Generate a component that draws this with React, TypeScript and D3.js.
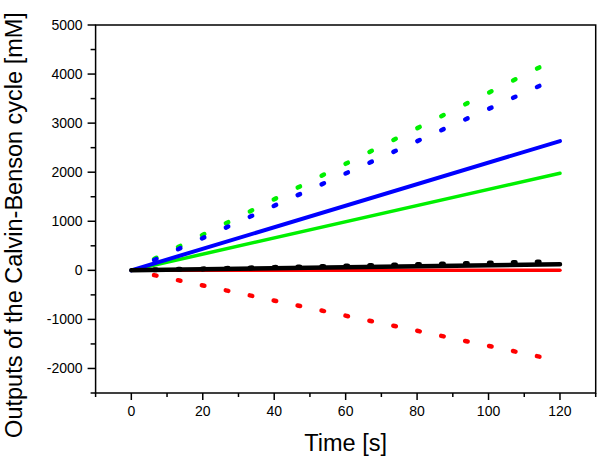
import React from "react";
import * as d3 from "d3";

const W = 600;
const H = 459;

// Solid lines (model)
const solidTimes = [0, 120];
const blueSolid = [0, 2635];
const greenSolid = [0, 1980];
const blackSolid = [0, 125];
const redSolid = [0, 0];

// Dotted series (sampled points)
const dotTimes = [0, 6.7, 13.4, 20.1, 26.8, 33.5, 40.2, 46.9, 53.6, 60.3, 67.0, 73.7, 80.4, 87.1, 93.8, 100.5, 107.2, 113.9];
const greenDots = [0, 243, 485, 728, 970, 1213, 1455, 1698, 1940, 2183, 2425, 2668, 2910, 3153, 3396, 3638, 3881, 4123];
const blueDots = [0, 220, 441, 661, 882, 1102, 1323, 1543, 1763, 1984, 2204, 2425, 2645, 2866, 3086, 3306, 3527, 3747];
const redDots = [0, -103, -206, -310, -413, -516, -619, -722, -825, -929, -1032, -1135, -1238, -1341, -1445, -1548, -1651, -1754];
const blackDots = [0, 10, 20, 30, 40, 50, 60, 70, 80, 90, 100, 110, 120, 131, 141, 151, 161, 171];

const xMajor = [0, 20, 40, 60, 80, 100, 120];
const xMinor = [-10, 10, 30, 50, 70, 90, 110, 130];
const yMajor = [-2000, -1000, 0, 1000, 2000, 3000, 4000, 5000];
const yMinor = [-2500, -1500, -500, 500, 1500, 2500, 3500, 4500];

const xLabel = "Time [s]";
const yLabel = "Outputs of the Calvin-Benson cycle [mM]";

const BLUE = "#0000ff";
const GREEN = "#00f000";
const RED = "#ff0000";
const BLACK = "#000000";

const FONT = "Arial, 'Liberation Sans', sans-serif";

export default function App() {
  const left = 95.6, right = 595.7, top = 25, bottom = 393;
  const x = d3.scaleLinear().domain([-10, 130]).range([left, right]);
  const y = d3.scaleLinear().domain([-2500, 5000]).range([bottom, top]);

  const line = d3
    .line<[number, number]>()
    .x((d) => x(d[0]))
    .y((d) => y(d[1]));

  const solid = (vals: number[]) => line(solidTimes.map((t, i) => [t, vals[i]] as [number, number])) || "";

  const dots = (vals: number[], color: string, half: number, sw: number, key: string) => {
    const pts = dotTimes.map((t, i) => [x(t), y(vals[i])]);
    return (
      <g key={key}>
        {pts.map((p, i) => {
          if (i === 0) return null;
          const a = pts[Math.max(0, i - 1)];
          const b = pts[Math.min(pts.length - 1, i + 1)];
          const dx = b[0] - a[0];
          const dy = b[1] - a[1];
          const len = Math.hypot(dx, dy) || 1;
          const ux = (dx / len) * half;
          const uy = (dy / len) * half;
          return (
            <line
              key={i}
              x1={p[0] - ux}
              y1={p[1] - uy}
              x2={p[0] + ux}
              y2={p[1] + uy}
              stroke={color}
              strokeWidth={sw}
              strokeLinecap="round"
            />
          );
        })}
      </g>
    );
  };

  return (
    <svg
      width={W}
      height={H}
      style={{ position: "absolute", left: 0, top: 0, background: "#fff" }}
      fontFamily={FONT}
    >
      <rect x={0} y={0} width={W} height={H} fill="#fff" />

      {/* data */}
      {dots(redDots, RED, 1.3, 4.5, "rd")}
      {dots(greenDots, GREEN, 1.3, 4.5, "gd")}
      {dots(blueDots, BLUE, 1.3, 4.5, "bd")}
      <path d={solid(redSolid)} stroke={RED} strokeWidth={3.5} fill="none" strokeLinecap="round" />
      <path d={solid(greenSolid)} stroke={GREEN} strokeWidth={3.5} fill="none" strokeLinecap="round" />
      <path d={solid(blueSolid)} stroke={BLUE} strokeWidth={4} fill="none" strokeLinecap="round" />
      {dots(blackDots, BLACK, 1.0, 5, "kd")}
      <path d={solid(blackSolid)} stroke={BLACK} strokeWidth={4.5} fill="none" strokeLinecap="round" />

      {/* frame */}
      <rect x={left} y={top} width={right - left} height={bottom - top} fill="none" stroke="#000" strokeWidth={1.5} />

      {/* x ticks */}
      {xMajor.map((t) => (
        <g key={"xm" + t}>
          <line x1={x(t)} x2={x(t)} y1={bottom} y2={bottom + 7} stroke="#000" strokeWidth={1.5} />
          <text x={x(t)} y={bottom + 23} textAnchor="middle" fontSize={14} fill="#000">
            {t}
          </text>
        </g>
      ))}
      {xMinor.map((t) => (
        <line key={"xn" + t} x1={x(t)} x2={x(t)} y1={bottom} y2={bottom + 4} stroke="#000" strokeWidth={1.5} />
      ))}

      {/* y ticks */}
      {yMajor.map((v) => (
        <g key={"ym" + v}>
          <line x1={left - 8} x2={left} y1={y(v)} y2={y(v)} stroke="#000" strokeWidth={1.5} />
          <text x={left - 13} y={y(v) + 5} textAnchor="end" fontSize={14} fill="#000">
            {v}
          </text>
        </g>
      ))}
      {yMinor.map((v) => (
        <line key={"yn" + v} x1={left - 5} x2={left} y1={y(v)} y2={y(v)} stroke="#000" strokeWidth={1.5} />
      ))}

      {/* axis titles */}
      <text x={(left + right) / 2} y={451} textAnchor="middle" fontSize={23.5} fill="#000">
        {xLabel}
      </text>
      <text
        transform={`translate(22, 225) rotate(-90)`}
        textAnchor="middle"
        fontSize={23.5}
        fill="#000"
      >
        {yLabel}
      </text>
    </svg>
  );
}
